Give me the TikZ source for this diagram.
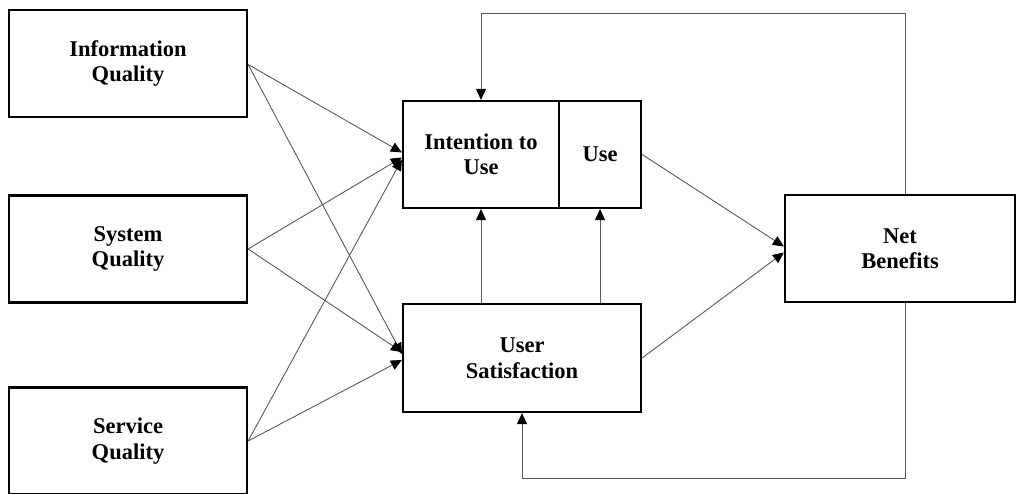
\documentclass[tikz,border=0pt]{standalone}
\usepackage{fontspec}
\setmainfont{Liberation Serif}
\usetikzlibrary{arrows.meta,calc}
\begin{document}
\begin{tikzpicture}[x=1pt,y=-1pt,
 box/.style={draw,line width=2.2pt,inner sep=0pt,font=\fontsize{22.5}{25.5}\selectfont\bfseries,align=center},
 conn/.style={draw=black!65,line width=0.9pt},
 arr/.style={conn,-{Triangle[length=11pt,width=10pt,color=black]}}]
\useasboundingbox (0,0) rectangle (1016,494);
\node[box,minimum width=238pt,minimum height=107pt] (info) at (128,63.5) {Information\\Quality};
\node[box,minimum width=238pt,minimum height=107pt] (sys) at (128,249) {System\\Quality};
\node[box,minimum width=238pt,minimum height=107pt] (serv) at (128,441) {Service\\Quality};
\node[box,minimum width=156pt,minimum height=107pt] (iu) at (481,154.5) {Intention to\\Use};
\node[box,minimum width=82pt,minimum height=107pt] (use) at (600,154.5) {Use};
\node[box,minimum width=238pt,minimum height=108pt] (us) at (522,358) {User\\Satisfaction};
\node[box,minimum width=230pt,minimum height=107pt] (nb) at (900,248.5) {Net\\Benefits};
\coordinate (top) at (905,13);
\coordinate (bot) at (905,478);
% inputs to Intention to Use
\draw[arr] ([yshift=-1pt]info.east) -- ($(iu.west)+(0,-2)$);
\draw[arr] (sys.east) -- ($(iu.west)+(0,3)$);
\draw[arr] (serv.east) -- ($(iu.west)+(0,5)$);
% inputs to User Satisfaction
\draw[arr] ([yshift=-1pt]info.east) -- ($(us.west)+(0,-4)$);
\draw[arr] (sys.east) -- ($(us.west)+(0,-6)$);
\draw[arr] (serv.east) -- ($(us.west)+(0,2)$);
% user satisfaction up
\draw[arr] (us.north -| iu.south) -- (iu.south);
\draw[arr] (us.north -| use.south) -- (use.south);
% to net benefits
\draw[arr] (use.east) -- ($(nb.west)+(0,-2)$);
\draw[arr] (us.east) -- ($(nb.west)+(0,4)$);
% feedback loops
\draw[arr] ([xshift=5pt]nb.north) -- (top) -| (iu.north);
\draw[arr] ([xshift=5pt]nb.south) -- (bot) -| (us.south);
\end{tikzpicture}
\end{document}
